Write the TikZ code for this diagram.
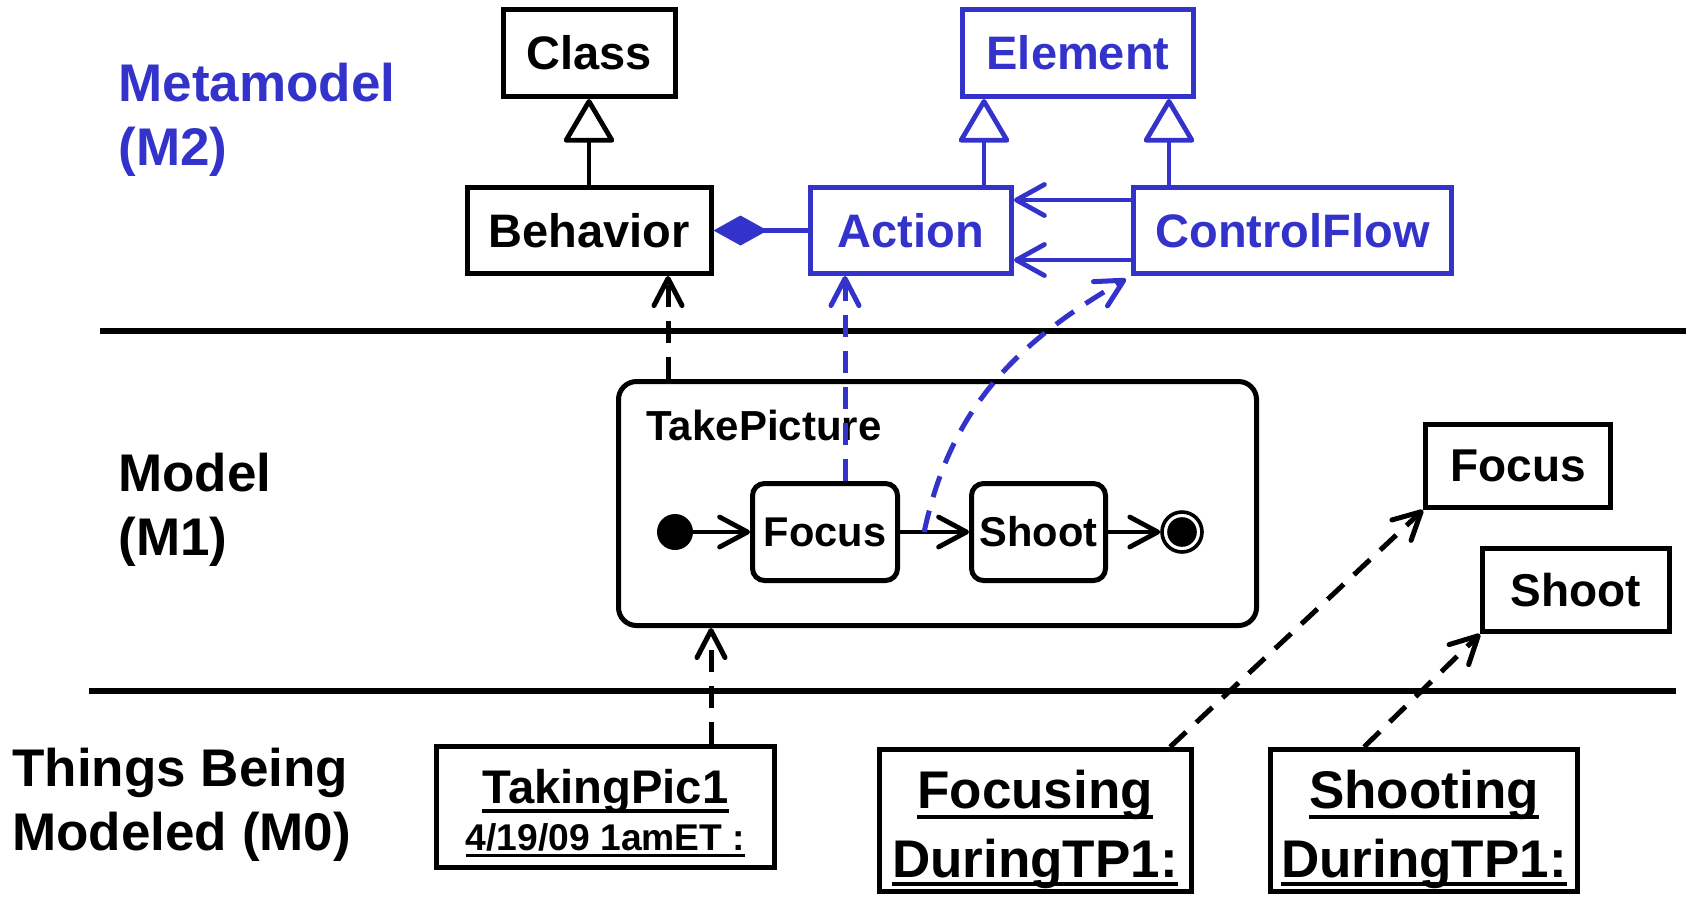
\documentclass[tikz,border=0pt]{standalone}
\usepackage{fontspec}
\setmainfont{Liberation Sans}
\usetikzlibrary{arrows.meta,calc}
\definecolor{mblue}{RGB}{51,51,204}

\begin{document}
\begin{tikzpicture}[x=0.5pt,y=-0.5pt,
  box/.style={draw, line width=2.5pt, inner sep=0pt, font=\fontsize{23.5}{28}\selectfont\bfseries},
  bluebox/.style={box, draw=mblue, text=mblue},
  statebox/.style={draw, line width=2.5pt, rounded corners=6pt, inner sep=0pt, font=\fontsize{20.8}{25}\selectfont\bfseries},
  layer/.style={anchor=north west, align=left, inner sep=0pt, font=\fontsize{26.5}{32}\selectfont\bfseries},
  objtext/.style={anchor=base, inner sep=0pt, font=\fontsize{26.5}{32}\selectfont\bfseries},
  sepline/.style={line width=2.6pt},
  gen/.style={line width=2.4pt, -{Triangle[length=23pt, width=26.5pt, fill=white, round]}},
  comp/.style={line width=2.4pt, mblue, -{Diamond[length=27pt, width=15pt]}},
  assoc/.style={line width=2.4pt, -{Straight Barb[length=14pt, width=15.5pt, round]}},
  trans/.style={line width=2.4pt, -{Straight Barb[length=14pt, width=15pt, round]}},
  dep/.style={line width=2.5pt, dash pattern=on 11pt off 7pt, -{Straight Barb[length=13.5pt, width=14pt, round]}},
  uline/.style={line width=2.2pt}
]
\useasboundingbox (0,0) rectangle (1686,896);

% layer titles
\node[layer, text=mblue] (m2) at (118,63) {Metamodel\\(M2)};
\node[layer] (m1) at (118,453) {Model\\(M1)};
\node[layer] (m0) at (12,748) {Things Being\\Modeled (M0)};

% layer separators
\draw[sepline] (100,331) -- (1686,331);
\draw[sepline] (89,691) -- (1676,691);

% metamodel classes
\node[box, minimum width=86pt, minimum height=43.5pt] (class) at (589,53) {Class};
\node[bluebox, minimum width=115.5pt, minimum height=43.5pt] (element) at (1078,53) {Element};
\node[box, minimum width=122pt, minimum height=43pt] (behavior) at (589,230.5) {Behavior};
\node[bluebox, minimum width=100.5pt, minimum height=43pt] (action) at (911,230.5) {Action};
\node[bluebox, minimum width=159pt, minimum height=43pt] (cflow) at (1292.5,230.5) {ControlFlow};

\draw[gen] (behavior) -- (class);
\draw[gen, mblue] ([xshift=36.5pt]action.north) -- ([xshift=36.5pt]action.north |- element.south);
\draw[gen, mblue] ([xshift=-61.75pt]cflow.north) -- ([xshift=-61.75pt]cflow.north |- element.south);
\draw[comp] (action) -- (behavior);
\draw[assoc, mblue] ([yshift=15.25pt]cflow.west) -- ([yshift=15.25pt]action.east);
\draw[assoc, mblue] ([yshift=-14.75pt]cflow.west) -- ([yshift=-14.75pt]action.east);

% model: the TakePicture activity
\node[draw, line width=2.5pt, rounded corners=9pt, minimum width=319pt, minimum height=122pt] (tp) at (937.5,503.5) {};
\node[anchor=base west, inner sep=0pt, font=\fontsize{21}{25}\selectfont\bfseries] (tpname) at (646,440) {TakePicture};
\node[circle, fill, inner sep=0pt, minimum size=18pt] (init) at (675,532) {};
\node[statebox, minimum width=72.5pt, minimum height=48.5pt] (focus) at (825,532) {Focus};
\node[statebox, minimum width=67pt, minimum height=48.5pt] (shoot) at (1038.5,532) {Shoot};
\node[circle, draw, line width=1.8pt, inner sep=0pt, minimum size=20pt,
      path picture={\fill (path picture bounding box.center) circle (7.4pt);}] (final) at (1182,532) {};
\draw[trans] (init) -- (focus);
\draw[trans] (focus) -- (shoot);
\draw[trans] (shoot) -- (final);

% model: standalone actions
\node[box, font=\fontsize{23}{28}\selectfont\bfseries, minimum width=92.5pt, minimum height=41.5pt] (focusM) at (1518,466) {Focus};
\node[box, font=\fontsize{23}{28}\selectfont\bfseries, minimum width=93.5pt, minimum height=41.5pt] (shootM) at (1576,590) {Shoot};

% things being modeled
\node[box, minimum width=169pt, minimum height=60.5pt] (pic1) at (605.5,807) {};
\node[objtext, font=\fontsize{23.6}{28}\selectfont\bfseries] (pic1a) at (605.5,803) {TakingPic1};
\node[objtext, font=\fontsize{18.6}{22}\selectfont\bfseries] (pic1b) at (605.5,850) {4/19/09 1amET :};
\draw[uline] ([yshift=-4pt]pic1a.base west) -- ([yshift=-4pt]pic1a.base east);
\draw[uline, line width=1.6pt] ([yshift=-2.8pt]pic1b.base west) -- ([yshift=-2.8pt]pic1b.base east);

\node[box, minimum width=156pt, minimum height=71pt] (fing) at (1035.5,820.5) {};
\node[objtext] (finga) at (1035,808) {Focusing};
\node[objtext] (fingb) at (1035,877) {DuringTP1:};
\draw[uline] ([yshift=-4.5pt]finga.base west) -- ([yshift=-4.5pt]finga.base east);
\draw[uline] ([yshift=-3.5pt]fingb.base west) -- ([yshift=-3.5pt]fingb.base east);

\node[box, minimum width=153.5pt, minimum height=71pt] (sing) at (1424,820.5) {};
\node[objtext] (singa) at (1424,808) {Shooting};
\node[objtext] (singb) at (1424,877) {DuringTP1:};
\draw[uline] ([yshift=-4.5pt]singa.base west) -- ([yshift=-4.5pt]singa.base east);
\draw[uline] ([yshift=-3.5pt]singb.base west) -- ([yshift=-3.5pt]singb.base east);

% instance-of dependencies
\draw[dep] ([xshift=-134.75pt]tp.north) -- ([xshift=-134.75pt]tp.north |- behavior.south);
\draw[dep, mblue] ([xshift=10pt]focus.north) -- ([xshift=10pt]focus.north |- action.south);
\coordinate (fs) at ($(focus.east)!0.35!(shoot.west)$);
\draw[dep, mblue] (fs) to[out=78, in=210] ([xshift=-2.5pt, yshift=-1.5pt]cflow.south west);
\draw[dep] ([xshift=52.75pt]pic1.north) -- ([xshift=52.75pt]pic1.north |- tp.south);
\draw[dep] ([xshift=67.25pt]fing.north) -- (focusM.south west);
\draw[dep] ([xshift=-30pt]sing.north) -- (shootM.south west);
\end{tikzpicture}
\end{document}
